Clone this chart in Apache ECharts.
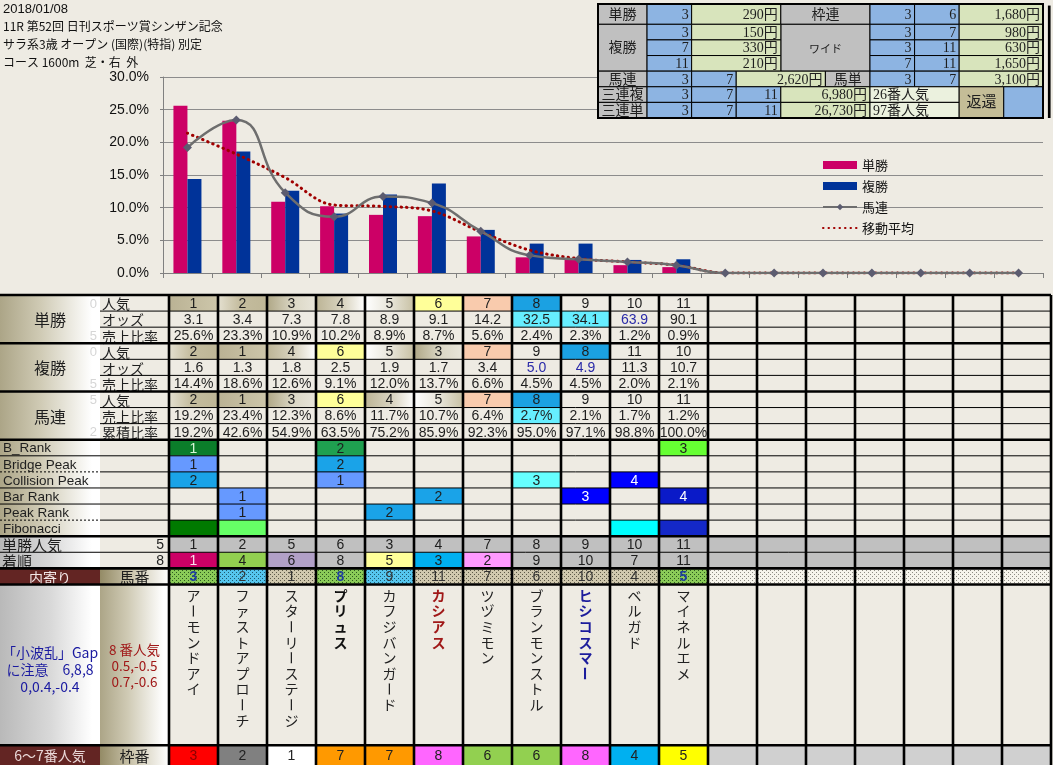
<!DOCTYPE html>
<html><head><meta charset="utf-8">
<script src="https://cdn.jsdelivr.net/npm/echarts@6/dist/echarts.min.js"></script>
<style>html,body{margin:0;padding:0;background:#EEEBE3;}#c{width:1053px;height:765px;}</style>
</head><body><div id="c"></div>
<script>
// ================= DATA =================
const headerLines = ['2018/01/08', '11R 第52回 日刊スポーツ賞シンザン記念', 'サラ系3歳 オープン (国際)(特指) 別定', 'コース 1600m  芝・右  外'];
const chartCategories = ['1','2','3','4','5','6','7','8','9','10','11','12','13','14','15','16','17','18'];
const tanshoShare  = [25.6, 23.3, 10.9, 10.2, 8.9, 8.7, 5.6, 2.4, 2.3, 1.2, 0.9];
const fukushoShare = [14.4, 18.6, 12.6, 9.1, 12.0, 13.7, 6.6, 4.5, 4.5, 2.0, 2.1];
const umarenShare  = [19.2, 23.4, 12.3, 8.6, 11.7, 10.7, 6.4, 2.7, 2.1, 1.7, 1.2, 0, 0, 0, 0, 0, 0, 0];
const movingAvg    = [21.4, 18.2, 14.6, 10.4, 10.2, 9.5, 6.3, 3.5, 2.2, 1.7, 1.2, 0, 0, 0, 0, 0, 0, 0];
const legendNames  = ['単勝', '複勝', '馬連', '移動平均'];

const tanshoPop   = [1, 2, 3, 4, 5, 6, 7, 8, 9, 10, 11];
const tanshoOdds  = [3.1, 3.4, 7.3, 7.8, 8.9, 9.1, 14.2, 32.5, 34.1, 63.9, 90.1];
const fukushoPop  = [2, 1, 4, 6, 5, 3, 7, 9, 8, 11, 10];
const fukushoOdds = [1.6, 1.3, 1.8, 2.5, 1.9, 1.7, 3.4, 5.0, 4.9, 11.3, 10.7];
const umarenPop   = [2, 1, 3, 6, 4, 5, 7, 8, 9, 10, 11];
const umarenCum   = [19.2, 42.6, 54.9, 63.5, 75.2, 85.9, 92.3, 95.0, 97.1, 98.8, 100.0];

const bRank         = [1, null, null, 2, null, null, null, null, null, null, 3];
const bridgePeak    = [1, null, null, 2, null, null, null, null, null, null, null];
const collisionPeak = [2, null, null, 1, null, null, null, 3, null, 4, null];
const barRank       = [null, 1, null, null, null, 2, null, null, 3, null, 4];
const peakRank      = [null, 1, null, null, 2, null, null, null, null, null, null];
const fibonacciMarks= [1, 1, 0, 0, 0, 0, 0, 0, 0, 1, 1];

const winPopRow    = [1, 2, 5, 6, 3, 4, 7, 8, 9, 10, 11];
const finishOrder  = [1, 4, 6, 8, 5, 3, 2, 9, 10, 7, 11];
const horseNumbers = [3, 2, 1, 8, 9, 11, 7, 6, 10, 4, 5];
const frameNumbers = [3, 2, 1, 7, 7, 8, 6, 6, 8, 4, 5];
const horseNames   = ['アーモンドアイ', 'ファストアプローチ', 'スターリーステージ', 'プリュス', 'カフジバンガード', 'カシアス', 'ツヅミモン', 'ブランモンストル', 'ヒシコスマー', 'ベルガド', 'マイネルエメ'];

const groupLabels  = ['単勝', '複勝', '馬連'];
const subLabels    = ['人気', 'オッズ', '売上比率', '人気', 'オッズ', '売上比率', '人気', '売上比率', '累積比率'];
const faintMarks   = ['0', '', '5', '0', '', '5', '5', '', '2'];
const rankLabels   = ['B_Rank', 'Bridge Peak', 'Collision Peak', 'Bar Rank', 'Peak Rank', 'Fibonacci'];
const winPopSummary = 5;
const finishSummary = 8;
const gapNote      = '「小波乱」Gap\nに注意　6,8,8\n0,0.4,-0.4';
const popNote      = '8 番人気\n0.5,-0.5\n0.7,-0.6';

// payout table
const payTansho   = {horses: [3], pay: '290円'};
const payFukusho  = [{horses: [3], pay: '150円'}, {horses: [7], pay: '330円'}, {horses: [11], pay: '210円'}];
const payWakuren  = {horses: [3, 6], pay: '1,680円'};
const payWide     = [{horses: [3, 7], pay: '980円'}, {horses: [3, 11], pay: '630円'}, {horses: [7, 11], pay: '1,650円'}];
const payUmaren   = {horses: [3, 7], pay: '2,620円'};
const payUmatan   = {horses: [3, 7], pay: '3,100円'};
const paySanrenpuku = {horses: [3, 7, 11], pay: '6,980円', pop: '26番人気'};
const paySanrentan  = {horses: [3, 7, 11], pay: '26,730円', pop: '97番人気'};

// ================= STYLE / LAYOUT =================
const BG = '#EEEBE3';
const JP = '"Noto Sans CJK JP", sans-serif';
const NUMF = '"Liberation Sans", "Noto Sans CJK JP", sans-serif';
const SERIF = '"Liberation Serif", "Noto Sans CJK JP", serif';
const DATA_FONT = '14px ' + NUMF;
const N = horseNames.length;
const NCOL = 18;
const ROW_H = 16.08;
const TABLE_TOP = 295, TABLE_H = 470;
const Y_MAX = TABLE_H / ROW_H;
const XL = -169 / 49, XM = -69 / 49;
const NAME_TOP = 18, NAME_BOT = 28;

const LG = echarts.graphic.LinearGradient;
const grad = stops => new LG(0, 0, 1, 0, stops.map(s => ({offset: s[0], color: s[1]})));
const tanGrad  = () => grad([[0, '#ACA587'], [0.4, '#CFCAB4'], [0.92, '#FFFFFF'], [1, '#FFFFFF']]);
const grayGrad = () => grad([[0, '#B9B9B9'], [0.5, '#D8D8D8'], [0.92, '#FFFFFF'], [1, '#FFFFFF']]);
const darkTanGrad = () => grad([[0, '#948B66'], [0.5, '#CFC9B2'], [1, '#FFFFFF']]);

function popFill(r) {
  switch (r) {
    case 1: return grad([[0, '#BAB294'], [1, '#CDC6AA']]);
    case 2: return grad([[0, '#E4E0D0'], [0.45, '#C4BC9E'], [1, '#BEB696']]);
    case 3: return grad([[0, '#AFA786'], [0.55, '#DCD8C6'], [1, '#E8E5DA']]);
    case 4: return grad([[0, '#BCB495'], [0.6, '#DCD7C5'], [1, '#FFFFFF']]);
    case 5: return grad([[0, '#FFFFFF'], [0.55, '#E6E3D6'], [1, '#C8C1A4']]);
    case 6: return '#FFFF99';
    case 7: return '#F9CBAD';
    case 8: return '#1BA1E2';
  }
  return null;
}
const cyanFill = '#66EEFF';
const blueText = '#2A2AA8';
const tanOddsFill = {7: cyanFill, 8: cyanFill};
const tanOddsColor = {9: blueText};
const fukuOddsColor = {7: blueText, 8: blueText};
const umaShareFill = {7: cyanFill};
const rankColorMaps = [
  {1: '#0B7D2A', 2: '#1FA050', 3: '#66FF33'},
  {1: '#6699FF', 2: '#1AA3E8'},
  {1: '#6699FF', 2: '#1AA3E8', 3: '#66FFFF', 4: '#0000FF'},
  {1: '#6699FF', 2: '#1AA3E8', 3: '#0000FF', 4: '#0A1AC8'},
  {1: '#6699FF', 2: '#1AA3E8'}
];
const darkFills = ['#0B7D2A', '#0000FF', '#0A1AC8'];
const fibColors = {0: '#007A00', 1: '#66FF66', 9: '#00FFFF', 10: '#1428C8'};
const finishColors = {1: '#CC0066', 2: '#FF99FF', 3: '#00B0F0', 4: '#92D050', 5: '#FFFF99', 6: '#B1A0C7'};
const frameColors = {1: '#FFFFFF', 2: '#808080', 3: '#FF0000', 4: '#00B0F0', 5: '#FFFF00', 6: '#92D050', 7: '#FF9900', 8: '#FF66FF'};
const umabanKind = ['g', 'c', 't', 'g', 'c', 't', 't', 't', 't', 't', 'g'];
const nameStyles = {3: {bold: true, color: '#111'}, 5: {bold: true, color: '#A01818'}, 8: {bold: true, color: '#1C1C9C'}};

function dotPattern(bg, dot) {
  const c = document.createElement('canvas'); c.width = 4; c.height = 4;
  const g = c.getContext('2d'); g.fillStyle = bg; g.fillRect(0, 0, 4, 4);
  g.fillStyle = dot; g.fillRect(0, 0, 1, 1); g.fillRect(2, 2, 1, 1);
  return {image: c, repeat: 'repeat'};
}
const patterns = {
  g: dotPattern('#8ACB58', '#2E5A1E'),
  c: dotPattern('#55C6EE', '#1E5A70'),
  t: dotPattern('#D0C8AE', '#5E5A48'),
  e: dotPattern('#F6F4EC', '#8E8C84')
};

// ================= LOWER TABLE CELLS =================
const tbl = [];
const add = (x0, x1, y0, y1, o) => tbl.push(Object.assign({x0, x1, y0, y1}, o || {}));
const pct = v => v.toFixed(1) + '%';
const fix1 = v => v.toFixed(1);

groupLabels.forEach((t, g) => add(XL, XM, g * 3, g * 3 + 3, {fill: tanGrad(), text: t, font: '16px ' + JP}));
faintMarks.forEach((t, r) => { if (t) add(XL, XM, r, r + 1, {text: t, align: 'right', pad: 3, color: '#D6D6D6', font: '13px ' + NUMF}); });
subLabels.forEach((t, r) => add(XM, 0, r, r + 1, {text: t, align: 'left', pad: 2, font: '14px ' + JP}));

function dataRow(r, vals, fmt, fillFn, colorFn) {
  vals.forEach((v, i) => {
    if (v == null) return;
    add(i, i + 1, r, r + 1, {text: fmt ? fmt(v, i) : String(v), fill: fillFn ? fillFn(v, i) : null, color: colorFn ? colorFn(v, i) : null, font: DATA_FONT});
  });
}
dataRow(0, tanshoPop, null, v => popFill(v));
dataRow(1, tanshoOdds, fix1, (v, i) => tanOddsFill[i] || null, (v, i) => tanOddsColor[i] || null);
dataRow(2, tanshoShare, pct);
dataRow(3, fukushoPop, null, v => popFill(v));
dataRow(4, fukushoOdds, fix1, null, (v, i) => fukuOddsColor[i] || null);
dataRow(5, fukushoShare, pct);
dataRow(6, umarenPop, null, v => popFill(v));
dataRow(7, umarenShare.slice(0, N), pct, (v, i) => umaShareFill[i] || null);
dataRow(8, umarenCum, pct);

rankLabels.forEach((t, k) => add(XL, XM, 9 + k, 10 + k, {fill: tanGrad(), text: t, align: 'left', pad: 3, font: '13.5px ' + NUMF}));
[bRank, bridgePeak, collisionPeak, barRank, peakRank].forEach((arr, k) => {
  const cmap = rankColorMaps[k];
  dataRow(9 + k, arr, null, v => cmap[v], v => darkFills.includes(cmap[v]) ? (k === 0 ? '#D8F8D8' : '#FFFFFF') : null);
});
fibonacciMarks.forEach((m, i) => { if (m) add(i, i + 1, 14, 15, {fill: fibColors[i]}); });

add(XL, XM, 15, 16, {fill: grayGrad(), text: '単勝人気', align: 'left', pad: 2, font: '15px ' + JP});
add(XM, 0, 15, 16, {text: String(winPopSummary), align: 'right', pad: 5, font: DATA_FONT});
add(XL, XM, 16, 17, {fill: grayGrad(), text: '着順', align: 'left', pad: 2, font: '15px ' + JP});
add(XM, 0, 16, 17, {text: String(finishSummary), align: 'right', pad: 5, font: DATA_FONT});
for (let i = 0; i < NCOL; i++) {
  add(i, i + 1, 15, 16, {fill: '#C0C0C0', text: i < N ? String(winPopRow[i]) : '', font: DATA_FONT});
  const f = i < N ? finishOrder[i] : null;
  add(i, i + 1, 16, 17, {fill: (f && finishColors[f]) || '#C0C0C0', text: f ? String(f) : '', font: DATA_FONT, color: f === 1 ? '#F8E0EC' : null});
}
add(XL, XM, 17, 18, {fill: '#632523', text: '内寄り', color: '#F2E6E6', font: '14px ' + JP});
add(XM, 0, 17, 18, {fill: darkTanGrad(), text: '馬番', font: '15px ' + JP});
for (let i = 0; i < NCOL; i++) {
  const k = i < N ? umabanKind[i] : 'e';
  add(i, i + 1, 17, 18, {fill: patterns[k], text: i < N ? String(horseNumbers[i]) : '',
    font: (k === 'g' ? 'bold ' : '') + DATA_FONT, color: k === 'g' ? '#1F3F9F' : '#333'});
}
add(XL, XM, NAME_TOP, NAME_BOT, {fill: grayGrad(), text: gapNote, color: '#1A1AA0', font: '14px ' + JP, lh: 17, dy: 4});
add(XM, 0, NAME_TOP, NAME_BOT, {fill: tanGrad(), text: popNote, color: '#A01818', font: '13.5px ' + JP, lh: 16, dy: 0});
add(XL, XM, NAME_BOT, Y_MAX, {fill: '#632523', text: '6～7番人気', color: '#EAD8D8', font: '14px ' + JP});
add(XM, 0, NAME_BOT, Y_MAX, {fill: darkTanGrad(), text: '枠番', font: '15px ' + JP});
for (let i = 0; i < NCOL; i++) {
  const fr = i < N ? frameNumbers[i] : null;
  add(i, i + 1, NAME_BOT, Y_MAX, {fill: fr ? frameColors[fr] : '#D0D0D0', text: fr ? String(fr) : '', font: DATA_FONT, color: fr === 3 ? '#8A0000' : '#222'});
}

// grid lines of lower table: [x0, y0, x1, y1]
const tLines = [], tLineStyle = [];
const hl = (x0, x1, y, w, dash) => { tLines.push([x0, y, x1, y]); tLineStyle.push({w, dash}); };
[0, 3, 6, 9, 15, 17, NAME_TOP, NAME_BOT].forEach(y => hl(XL, NCOL, y, 2.6));
[1, 2, 4, 5, 7, 8].forEach(y => hl(XM, NCOL, y, 1));
[10, 11, 12, 13, 14].forEach(y => hl(XM, NCOL, y, 1));
[10, 12, 13].forEach(y => hl(XL, XM, y, 1));
[11, 14].forEach(y => hl(XL, XM, y, 1, [2, 2]));
hl(XL, NCOL, 16, 1);
for (let c = 0; c <= NCOL; c++) { tLines.push([c, 0, c, Y_MAX]); tLineStyle.push({w: 2.6}); }

// ================= PAYOUT TABLE CELLS =================
const pay = [];
const RB = '#8DB4E2', RG = '#D8E4BC', RGR = '#C0C0C0', RLG = '#EBF1DE', RT = '#C4BD97';
const RF = '14px ' + SERIF;
const P = (x0, x1, y0, y1, o) => pay.push(Object.assign({x0, x1, y0, y1, font: RF, stroke: '#000', lw: 1}, o));
const PX0 = -1.1, PX1 = 8.88, PY0 = -0.3, PY1 = 7;
P(PX0, 0, PY0, 1, {fill: RGR, text: '単勝'});
P(0, 1, PY0, 1, {fill: RB, text: String(payTansho.horses[0]), align: 'right'});
P(1, 3, PY0, 1, {fill: RG, text: payTansho.pay, align: 'right'});
P(3, 5, PY0, 1, {fill: RGR, text: '枠連'});
P(5, 6, PY0, 1, {fill: RB, text: String(payWakuren.horses[0]), align: 'right'});
P(6, 7, PY0, 1, {fill: RB, text: String(payWakuren.horses[1]), align: 'right'});
P(7, PX1, PY0, 1, {fill: RG, text: payWakuren.pay, align: 'right'});
P(PX0, 0, 1, 4, {fill: RGR, text: '複勝'});
P(3, 5, 1, 4, {fill: RGR, text: 'ワイド', font: '11px ' + JP});
payFukusho.forEach((p, k) => {
  P(0, 1, 1 + k, 2 + k, {fill: RB, text: String(p.horses[0]), align: 'right'});
  P(1, 3, 1 + k, 2 + k, {fill: RG, text: p.pay, align: 'right'});
});
payWide.forEach((p, k) => {
  P(5, 6, 1 + k, 2 + k, {fill: RB, text: String(p.horses[0]), align: 'right'});
  P(6, 7, 1 + k, 2 + k, {fill: RB, text: String(p.horses[1]), align: 'right'});
  P(7, PX1, 1 + k, 2 + k, {fill: RG, text: p.pay, align: 'right'});
});
P(PX0, 0, 4, 5, {fill: RGR, text: '馬連'});
P(0, 1, 4, 5, {fill: RB, text: String(payUmaren.horses[0]), align: 'right'});
P(1, 2, 4, 5, {fill: RB, text: String(payUmaren.horses[1]), align: 'right'});
P(2, 4, 4, 5, {fill: RG, text: payUmaren.pay, align: 'right'});
P(4, 5, 4, 5, {fill: RGR, text: '馬単'});
P(5, 6, 4, 5, {fill: RB, text: String(payUmatan.horses[0]), align: 'right'});
P(6, 7, 4, 5, {fill: RB, text: String(payUmatan.horses[1]), align: 'right'});
P(7, PX1, 4, 5, {fill: RG, text: payUmatan.pay, align: 'right'});
[['三連複', paySanrenpuku], ['三連単', paySanrentan]].forEach(([lab, p], k) => {
  const y = 5 + k;
  P(PX0, 0, y, y + 1, {fill: RGR, text: lab});
  p.horses.forEach((h, j) => P(j, j + 1, y, y + 1, {fill: RB, text: String(h), align: 'right'}));
  P(3, 5, y, y + 1, {fill: RG, text: p.pay, align: 'right'});
  P(5, 7, y, y + 1, {fill: RLG, text: p.pop, align: 'left'});
});
P(7, 8, 5, 7, {fill: RT, text: '返還', font: '15px ' + SERIF});
P(8, PX1, 5, 7, {fill: RB});
P(PX0, PX1, PY0, PY1, {fill: null, lw: 2});
P(PX1 + 0.11, PX1 + 0.17, PY0 + 0.1, PY1, {fill: '#000', stroke: null, lw: 0});

// ================= RENDERERS =================
function cellRenderer(arr) {
  return function (params, api) {
    const c = arr[params.dataIndex];
    const a = api.coord([c.x0, c.y0]), b = api.coord([c.x1, c.y1]);
    const x = Math.min(a[0], b[0]), y = Math.min(a[1], b[1]);
    const w = Math.abs(b[0] - a[0]), h = Math.abs(b[1] - a[1]);
    const ch = [];
    if (c.fill || c.stroke) ch.push({type: 'rect', shape: {x, y, width: w, height: h},
      style: {fill: c.fill || 'none', stroke: c.stroke || null, lineWidth: c.lw || 0}});
    if (c.text) {
      const tx = c.align === 'left' ? x + (c.pad != null ? c.pad : 3) : c.align === 'right' ? x + w - (c.pad != null ? c.pad : 3) : x + w / 2;
      ch.push({type: 'text', style: {text: c.text, x: tx, y: y + h / 2 + 1 + (c.dy || 0), align: c.align || 'center',
        verticalAlign: 'middle', font: c.font || DATA_FONT, fill: c.color || '#1E1E1E', lineHeight: c.lh}});
    }
    return {type: 'group', children: ch};
  };
}
function lineRenderer(styles) {
  return function (params, api) {
    const s = styles[params.dataIndex];
    const a = api.coord([api.value(0), api.value(1)]), b = api.coord([api.value(2), api.value(3)]);
    return {type: 'line', shape: {x1: a[0], y1: a[1], x2: b[0], y2: b[1]},
      style: {stroke: '#000', lineWidth: s.w, lineDash: s.dash || null}};
  };
}
function nameRenderer(params, api) {
  const i = params.dataIndex;
  const p = api.coord([i + 0.5, NAME_TOP]);
  const st = nameStyles[i] || {};
  const children = [...horseNames[i]].map((chr, k) => ({
    type: 'text', x: p[0], y: p[1] + 11 + k * 15.6, rotation: chr === 'ー' ? -Math.PI / 2 : 0,
    style: {text: chr, x: 0, y: 0, align: 'center', verticalAlign: 'middle',
      font: (st.bold ? 'bold ' : '') + '14px ' + JP, fill: st.color || '#222'}
  }));
  return {type: 'group', children};
}

// ================= CHART =================
const chart = echarts.init(document.getElementById('c'));
const option = {
  animation: false,
  backgroundColor: BG,
  textStyle: {fontFamily: JP},
  graphic: headerLines.map((t, i) => ({type: 'text', left: 3, top: 3 + i * 17.7,
    style: {text: t, font: (i === 0 ? '13px ' + NUMF : '12px ' + JP), fill: '#111'}})),
  legend: {
    orient: 'vertical', left: 817, top: 152, itemWidth: 34, itemHeight: 8, itemGap: 5,
    textStyle: {fontSize: 13, fontFamily: JP, color: '#111', lineHeight: 16},
    data: [{name: '単勝', icon: 'rect'}, {name: '複勝', icon: 'rect'}, {name: '馬連'},
      {name: '移動平均', itemStyle: {color: 'rgba(0,0,0,0)', borderWidth: 0, opacity: 0}}]
  },
  grid: [
    {left: 163, top: 77, width: 880, height: 196, outerBoundsMode: 'none'},
    {left: 0, top: TABLE_TOP, width: 1051, height: TABLE_H, outerBoundsMode: 'none'},
    {left: 598, top: 4, width: 445, height: 114, outerBoundsMode: 'none'}
  ],
  xAxis: [
    {type: 'category', gridIndex: 0, data: chartCategories, boundaryGap: true,
      axisLabel: {show: false}, axisTick: {show: true, length: 5, interval: 0, lineStyle: {color: '#808080'}},
      axisLine: {show: true, lineStyle: {color: '#808080'}}, splitLine: {show: false}},
    {type: 'value', gridIndex: 1, min: XL, max: NCOL, show: false},
    {type: 'value', gridIndex: 2, min: PX0, max: PX1, show: false}
  ],
  yAxis: [
    {type: 'value', gridIndex: 0, min: 0, max: 30, interval: 5,
      axisLabel: {formatter: v => v.toFixed(1) + '%', fontSize: 14, fontFamily: '"Liberation Sans", sans-serif', color: '#111', margin: 14},
      axisLine: {show: true, lineStyle: {color: '#808080'}}, axisTick: {show: true, length: 3, lineStyle: {color: '#808080'}},
      splitLine: {show: true, lineStyle: {color: '#8C8C8C', width: 1}}},
    {type: 'value', gridIndex: 1, min: 0, max: Y_MAX, inverse: true, show: false},
    {type: 'value', gridIndex: 2, min: PY0, max: PY1, inverse: true, show: false}
  ],
  series: [
    {name: '単勝', type: 'bar', xAxisIndex: 0, yAxisIndex: 0, data: tanshoShare, barWidth: 14, barGap: '0%',
      itemStyle: {color: '#CC0066'}},
    {name: '複勝', type: 'bar', xAxisIndex: 0, yAxisIndex: 0, data: fukushoShare, barWidth: 14, barGap: '0%',
      itemStyle: {color: '#003399'}},
    {name: '移動平均', type: 'line', xAxisIndex: 0, yAxisIndex: 0, data: movingAvg, smooth: 0.35, symbol: 'none',
      itemStyle: {color: '#A00000'}, lineStyle: {color: '#A00000', width: 3, type: [0.5, 5], cap: 'round'}},
    {name: '馬連', type: 'line', xAxisIndex: 0, yAxisIndex: 0, data: umarenShare, smooth: 0.5,
      symbol: 'diamond', symbolSize: 9, itemStyle: {color: '#5C5C70'}, lineStyle: {color: '#6E6E6E', width: 2.5}},
    {type: 'custom', coordinateSystem: 'cartesian2d', xAxisIndex: 1, yAxisIndex: 1, silent: true, clip: false,
      renderItem: cellRenderer(tbl), data: tbl.map(c => [c.x0, c.x1, c.y0, c.y1]), encode: {x: [0, 1], y: [2, 3]}, z: 3},
    {type: 'custom', coordinateSystem: 'cartesian2d', xAxisIndex: 1, yAxisIndex: 1, silent: true, clip: false,
      renderItem: nameRenderer, data: horseNames.map((n, i) => [i + 0.5, NAME_TOP]), encode: {x: 0, y: 1}, z: 4},
    {type: 'custom', coordinateSystem: 'cartesian2d', xAxisIndex: 1, yAxisIndex: 1, silent: true, clip: false,
      renderItem: lineRenderer(tLineStyle), data: tLines, encode: {x: [0, 2], y: [1, 3]}, z: 5},
    {type: 'custom', coordinateSystem: 'cartesian2d', xAxisIndex: 2, yAxisIndex: 2, silent: true, clip: false,
      renderItem: cellRenderer(pay), data: pay.map(c => [c.x0, c.x1, c.y0, c.y1]), encode: {x: [0, 1], y: [2, 3]}, z: 6}
  ]
};
chart.setOption(option);
</script></body></html>
